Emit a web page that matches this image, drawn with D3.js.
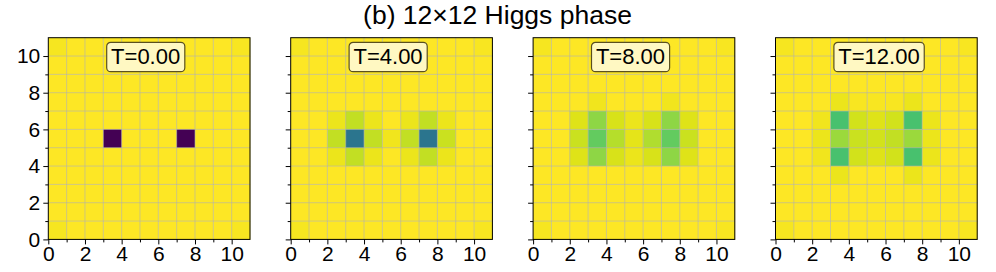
<!DOCTYPE html>
<html>
<head>
  <meta charset="UTF-8">
  <title>12x12 Higgs phase</title>
  <style>
    body { margin: 0; background: #fff; }
    svg text { font-family: "Liberation Sans", Arial, Helvetica, sans-serif; }
  </style>
</head>
<body>
<svg id="chart" width="996" height="272"></svg>
<script src="https://d3js.org/d3.v7.min.js"></script>
<script>

// panel titles
var panelLabels = ["T=0.00", "T=4.00", "T=8.00", "T=12.00"];
var majorTicks = [0, 2, 4, 6, 8, 10];
var minorTicks = [1, 3, 5, 7, 9];

// colour values (0..1, viridis), rows listed top (y=10) to bottom (y=0)
var gridT0 = [
  [0.985, 1, 1, 1, 1, 1, 1, 1, 1, 1, 0.99],
  [1, 1, 1, 1, 1, 1, 1, 1, 1, 1, 1],
  [1, 1, 1, 1, 1, 1, 1, 1, 1, 1, 1],
  [1, 1, 1, 1, 1, 1, 1, 1, 1, 1, 1],
  [1, 1, 1, 1, 1, 1, 1, 1, 1, 1, 1],
  [1, 1, 1, 0, 1, 1, 1, 0, 1, 1, 1],
  [1, 1, 1, 1, 1, 1, 1, 1, 1, 1, 1],
  [1, 1, 1, 1, 1, 1, 1, 1, 1, 1, 1],
  [1, 1, 1, 1, 1, 1, 1, 1, 1, 1, 1],
  [1, 1, 1, 1, 1, 1, 1, 1, 1, 1, 1],
  [0.985, 1, 1, 1, 1, 1, 1, 1, 1, 1, 0.99]
];
var gridT4 = [
  [0.985, 1, 1, 1, 1, 1, 1, 1, 1, 1, 0.99],
  [1, 1, 1, 1, 1, 1, 1, 1, 1, 1, 1],
  [1, 1, 1, 1, 1, 1, 1, 1, 1, 1, 1],
  [1, 1, 1, 1, 1, 1, 1, 1, 1, 1, 1],
  [1, 1, 0.97, 0.91, 0.97, 1, 0.97, 0.91, 0.97, 1, 1],
  [1, 1, 0.91, 0.39, 0.91, 0.98, 0.91, 0.39, 0.92, 1, 1],
  [1, 1, 0.97, 0.91, 0.97, 1, 0.97, 0.91, 0.97, 1, 1],
  [1, 1, 1, 1, 1, 1, 1, 1, 1, 1, 1],
  [1, 1, 1, 1, 1, 1, 1, 1, 1, 1, 1],
  [1, 1, 1, 1, 1, 1, 1, 1, 1, 1, 1],
  [0.985, 1, 1, 1, 1, 1, 1, 1, 1, 1, 0.99]
];
var gridT8 = [
  [0.985, 1, 1, 1, 1, 1, 1, 1, 1, 1, 0.99],
  [1, 1, 1, 1, 1, 1, 1, 1, 1, 1, 1],
  [1, 1, 1, 1, 1, 1, 1, 1, 1, 1, 1],
  [1, 1, 1, 0.98, 1, 1, 1, 0.98, 1, 1, 1],
  [1, 1, 0.95, 0.83, 0.94, 0.97, 0.94, 0.83, 0.95, 1, 1],
  [1, 1, 0.92, 0.76, 0.89, 0.96, 0.88, 0.76, 0.92, 1, 1],
  [1, 1, 0.95, 0.83, 0.94, 0.97, 0.94, 0.83, 0.95, 1, 1],
  [1, 1, 1, 1, 1, 1, 1, 1, 1, 1, 1],
  [1, 1, 1, 1, 1, 1, 1, 1, 1, 1, 1],
  [1, 1, 1, 1, 1, 1, 1, 1, 1, 1, 1],
  [0.985, 1, 1, 1, 1, 1, 1, 1, 1, 1, 0.99]
];
var gridT12 = [
  [0.985, 1, 1, 1, 1, 1, 1, 1, 1, 1, 0.99],
  [1, 1, 1, 1, 1, 1, 1, 1, 1, 1, 1],
  [1, 1, 1, 1, 1, 1, 1, 1, 1, 1, 1],
  [1, 1, 1, 0.97, 0.99, 0.99, 0.99, 0.97, 1, 1, 1],
  [1, 1, 0.98, 0.71, 0.93, 0.95, 0.93, 0.71, 0.97, 1, 1],
  [1, 1, 0.97, 0.85, 0.92, 0.93, 0.91, 0.85, 0.97, 1, 1],
  [1, 1, 0.98, 0.71, 0.93, 0.95, 0.93, 0.71, 0.97, 1, 1],
  [1, 1, 1, 0.97, 1, 1, 1, 0.97, 1, 1, 1],
  [1, 1, 1, 1, 1, 1, 1, 1, 1, 1, 1],
  [1, 1, 1, 1, 1, 1, 1, 1, 1, 1, 1],
  [0.985, 1, 1, 1, 1, 1, 1, 1, 1, 1, 0.99]
];
var grids = [gridT0, gridT4, gridT8, gridT12];

var svg = d3.select("#chart");

var panelLeft = [48.3, 290.7, 533.1, 775.5];
var top0 = 37.7, size = 201.7;

var x = d3.scaleLinear().domain([0, 11]).range([0, size]);
var y = d3.scaleLinear().domain([0, 11]).range([size, 0]);
var color = d3.scaleSequential(d3.interpolateViridis).domain([0, 1]);

// title
svg.append("text")
  .attr("x", 497.5).attr("y", 24)
  .attr("text-anchor", "middle")
  .style("font-size", "26.5px")
  .text("(b) 12\u00d712 Higgs phase");

grids.forEach(function(grid, p) {
  var g = svg.append("g").attr("transform", "translate(" + panelLeft[p] + "," + top0 + ")");

  // cells
  var cells = [];
  grid.forEach(function(row, r) {
    row.forEach(function(v, c) { cells.push({ c: c, yv: 10 - r, v: v }); });
  });
  g.selectAll("rect.cell").data(cells).enter().append("rect")
    .attr("class", "cell")
    .attr("x", function(d) { return x(d.c); })
    .attr("y", function(d) { return y(d.yv + 1); })
    .attr("width", x(1) - x(0) + 0.3)
    .attr("height", y(0) - y(1) + 0.3)
    .attr("fill", function(d) { return color(d.v); });

  // grid lines
  var lines = d3.range(1, 11);
  g.selectAll("line.vg").data(lines).enter().append("line")
    .attr("x1", function(d) { return x(d); }).attr("x2", function(d) { return x(d); })
    .attr("y1", 0).attr("y2", size)
    .attr("stroke", "#b0b0b0").attr("stroke-opacity", 0.6).attr("stroke-width", 1);
  g.selectAll("line.hg").data(lines).enter().append("line")
    .attr("y1", function(d) { return y(d); }).attr("y2", function(d) { return y(d); })
    .attr("x1", 0).attr("x2", size)
    .attr("stroke", "#b0b0b0").attr("stroke-opacity", 0.6).attr("stroke-width", 1);

  // frame
  g.append("rect").attr("x", 0).attr("y", 0).attr("width", size).attr("height", size)
    .attr("fill", "none").attr("stroke", "#000").attr("stroke-width", 1);

  // axes
  var xAxis = g.append("g").attr("transform", "translate(0," + size + ")")
    .call(d3.axisBottom(x).tickValues(majorTicks).tickSize(5).tickSizeOuter(0).tickPadding(1.5).tickFormat(d3.format("d")));
  var xMinor = g.append("g").attr("transform", "translate(0," + size + ")")
    .call(d3.axisBottom(x).tickValues(minorTicks).tickSize(3).tickSizeOuter(0).tickFormat(""));
  var yAxis = g.append("g")
    .call(d3.axisLeft(y).tickValues(majorTicks).tickSize(5).tickSizeOuter(0).tickPadding(3)
      .tickFormat(p === 0 ? d3.format("d") : ""));
  var yMinor = g.append("g")
    .call(d3.axisLeft(y).tickValues(minorTicks).tickSize(3).tickSizeOuter(0).tickFormat(""));

  [xAxis, xMinor, yAxis, yMinor].forEach(function(a) {
    a.select(".domain").remove();
    a.selectAll("text").style("font-size", "21px").attr("font-family", null).attr("fill", "#000");
    a.selectAll("line").attr("stroke", "#000");
  });

  // label box
  var lbl = g.append("g");
  var txt = lbl.append("text")
    .attr("x", 62.8).attr("y", 26)
    .style("font-size", "22px")
    .text(panelLabels[p]);
  var w = txt.node().getComputedTextLength();
  lbl.insert("rect", "text")
    .attr("x", 58.4).attr("y", 4.6)
    .attr("width", w + 9).attr("height", 29.4)
    .attr("rx", 4).attr("ry", 4)
    .attr("fill", "#fff8c2")
    .attr("stroke", "#5a5020").attr("stroke-width", 1.2);
});

</script>
</body>
</html>
